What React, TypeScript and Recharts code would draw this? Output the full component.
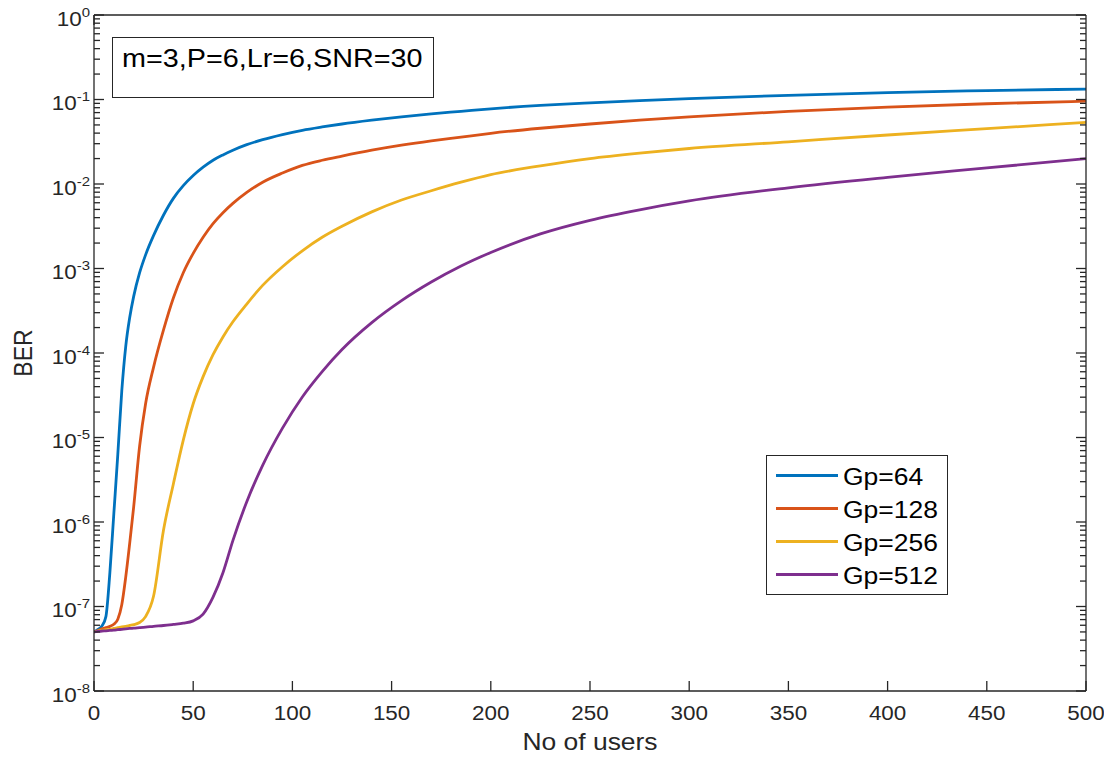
import React from "react";
import { LineChart, Line, XAxis, YAxis, Legend, Label } from "recharts";

// Number of users (x) and BER per processing gain
const users = [0, 2, 4, 6, 8, 10, 12, 14, 16, 18, 20, 23, 26, 30, 35, 40, 45, 50, 55, 60, 65, 70, 77, 85, 95, 105, 115, 125, 140, 155, 170, 185, 200, 225, 250, 275, 300, 350, 400, 450, 500];
const gp64 = [5.0e-8, 5.37e-8, 5.89e-8, 7.59e-8, 2.51e-7, 1.26e-6, 6.31e-6, 3.55e-5, 1.2e-4, 2.63e-4, 4.68e-4, 8.91e-4, 1.45e-3, 2.45e-3, 4.27e-3, 6.76e-3, 9.55e-3, 1.26e-2, 1.58e-2, 1.91e-2, 2.21e-2, 2.51e-2, 2.92e-2, 3.35e-2, 3.85e-2, 4.32e-2, 4.73e-2, 5.13e-2, 5.69e-2, 6.24e-2, 6.76e-2, 7.24e-2, 7.76e-2, 8.51e-2, 9.12e-2, 9.7e-2, 1.023e-1, 1.122e-1, 1.208e-1, 1.274e-1, 1.33e-1];
const gp128 = [5.0e-8, 5.19e-8, 5.43e-8, 5.62e-8, 5.82e-8, 6.17e-8, 7.08e-8, 1.05e-7, 2.24e-7, 5.62e-7, 1.51e-6, 7.94e-6, 2.51e-5, 6.76e-5, 1.86e-4, 4.47e-4, 8.91e-4, 1.51e-3, 2.34e-3, 3.39e-3, 4.57e-3, 5.89e-3, 7.94e-3, 1.05e-2, 1.35e-2, 1.66e-2, 1.91e-2, 2.14e-2, 2.51e-2, 2.88e-2, 3.24e-2, 3.59e-2, 3.98e-2, 4.57e-2, 5.13e-2, 5.69e-2, 6.24e-2, 7.24e-2, 8.13e-2, 8.91e-2, 9.55e-2];
const gp256 = [5.0e-8, 5.13e-8, 5.25e-8, 5.31e-8, 5.37e-8, 5.5e-8, 5.62e-8, 5.75e-8, 5.82e-8, 5.96e-8, 6.1e-8, 6.46e-8, 7.59e-8, 1.32e-7, 7.94e-7, 2.82e-6, 9.33e-6, 2.51e-5, 5.25e-5, 9.55e-5, 1.55e-4, 2.34e-4, 3.8e-4, 6.31e-4, 1.05e-3, 1.62e-3, 2.34e-3, 3.16e-3, 4.68e-3, 6.46e-3, 8.32e-3, 1.05e-2, 1.29e-2, 1.64e-2, 2.0e-2, 2.32e-2, 2.63e-2, 3.16e-2, 3.8e-2, 4.52e-2, 5.37e-2];
const gp512 = [5.0e-8, 5.07e-8, 5.13e-8, 5.16e-8, 5.21e-8, 5.25e-8, 5.31e-8, 5.37e-8, 5.43e-8, 5.5e-8, 5.56e-8, 5.62e-8, 5.69e-8, 5.82e-8, 5.96e-8, 6.14e-8, 6.34e-8, 6.76e-8, 8.13e-8, 1.29e-7, 2.51e-7, 6.03e-7, 1.74e-6, 4.68e-6, 1.29e-5, 3.02e-5, 6.03e-5, 1.1e-4, 2.29e-4, 4.17e-4, 6.92e-4, 1.07e-3, 1.55e-3, 2.57e-3, 3.72e-3, 4.95e-3, 6.31e-3, 9.02e-3, 1.2e-2, 1.55e-2, 2.0e-2];

const seriesKeys = ["gp64", "gp128", "gp256", "gp512"];
const seriesNames = ["Gp=64", "Gp=128", "Gp=256", "Gp=512"];
const xTicks = [0, 50, 100, 150, 200, 250, 300, 350, 400, 450, 500];
const yDecades = [1e-8, 1e-7, 1e-6, 1e-5, 1e-4, 1e-3, 1e-2, 1e-1, 1];
const minorSteps = [2, 3, 4, 5, 6, 7, 8, 9];
const annotation = "m=3,P=6,Lr=6,SNR=30";

// MATLAB default line colours
const COLORS = ["#0072BD", "#D95319", "#EDB120", "#7E2F8E"];
const INK = "#262626";
const FONT = "'Liberation Sans', Arial, sans-serif";
const SX = 1.15; // the source image is a bit stretched horizontally

const data = users.map((u, i) => ({
  users: u,
  gp64: gp64[i],
  gp128: gp128[i],
  gp256: gp256[i],
  gp512: gp512[i],
}));

const yTicks = [
  ...yDecades,
  ...yDecades.slice(0, -1).flatMap((d) => minorSteps.map((m) => m * d)),
].sort((a, b) => a - b);

const isMajor = (v: number) => {
  const l = Math.log10(v);
  return Math.abs(l - Math.round(l)) < 1e-6;
};

// inward ticks, MATLAB style
function LeftTick(props: any) {
  const { x, y, payload } = props;
  const major = isMajor(payload.value);
  const exp = Math.round(Math.log10(payload.value));
  return (
    <g>
      <line x1={x} x2={x + (major ? 10 : 6)} y1={y} y2={y} stroke={INK} strokeWidth={1.3} />
      {major && (
        <text
          transform={`translate(${x - 4},${y + 10.5}) scale(${SX},1)`}
          textAnchor="end"
          fill={INK}
          fontSize={19.5}
          fontFamily={FONT}
        >
          <tspan>10</tspan>
          <tspan dy={-9} fontSize={13}>{exp}</tspan>
        </text>
      )}
    </g>
  );
}

function RightTick(props: any) {
  const { x, y, payload } = props;
  const major = isMajor(payload.value);
  return <line x1={x} x2={x - (major ? 10 : 6)} y1={y} y2={y} stroke={INK} strokeWidth={1.3} />;
}

function BottomTick(props: any) {
  const { x, y, payload } = props;
  return (
    <g>
      <line x1={x} x2={x} y1={y} y2={y - 10} stroke={INK} strokeWidth={1.3} />
      <text
        transform={`translate(${x},${y + 29}) scale(${SX},1)`}
        textAnchor="middle"
        fill={INK}
        fontSize={19.5}
        fontFamily={FONT}
      >
        {payload.value}
      </text>
    </g>
  );
}

function TopTick(props: any) {
  const { x, y } = props;
  return <line x1={x} x2={x} y1={y} y2={y + 10} stroke={INK} strokeWidth={1.3} />;
}

function LegendBox({ payload }: any) {
  const items = [...(payload ?? [])].sort(
    (a: any, b: any) => seriesNames.indexOf(a.value) - seriesNames.indexOf(b.value)
  );
  return (
    <div
      style={{
        position: "relative",
        boxSizing: "border-box",
        width: 182,
        height: 140,
        border: `1px solid ${INK}`,
        background: "#fff",
      }}
    >
      {items.map((p: any, i: number) => (
        <React.Fragment key={p.value}>
          <div
            style={{
              position: "absolute",
              left: 9,
              top: 19 + i * 33.3 - 1.5,
              width: 62,
              height: 3,
              background: p.color,
            }}
          />
          <span
            style={{
              position: "absolute",
              left: 76,
              top: 29 + i * 33.3 - 19.5,
              fontSize: 23,
              lineHeight: "23px",
              fontFamily: FONT,
              color: "#000",
              whiteSpace: "nowrap",
              transform: `scaleX(${SX})`,
              transformOrigin: "left",
            }}
          >
            {p.value}
          </span>
        </React.Fragment>
      ))}
    </div>
  );
}

export default function App() {
  return (
    <div style={{ position: "relative", width: 1112, height: 759, margin: -8, background: "#fff" }}>
      <LineChart
        width={1112}
        height={759}
        data={data}
        margin={{ top: 14, right: 25, bottom: 8, left: 0 }}
      >
        <XAxis
          dataKey="users"
          type="number"
          domain={[0, 500]}
          ticks={xTicks}
          interval={0}
          allowDataOverflow
          height={60}
          tickSize={0}
          tickMargin={0}
          tickLine={false}
          axisLine={{ stroke: INK, strokeWidth: 1.3 }}
          tick={<BottomTick />}
        >
          <Label
            content={(p: any) => {
              const vb = p.viewBox ?? { x: 94, y: 691, width: 992, height: 60 };
              return (
                <text
                  transform={`translate(${vb.x + vb.width / 2},${vb.y + 59}) scale(${SX},1)`}
                  textAnchor="middle"
                  fill={INK}
                  fontSize={23}
                  fontFamily={FONT}
                >
                  No of users
                </text>
              );
            }}
          />
        </XAxis>
        <XAxis
          xAxisId="top"
          orientation="top"
          type="number"
          domain={[0, 500]}
          ticks={xTicks}
          interval={0}
          allowDataOverflow
          height={1}
          tickSize={0}
          tickMargin={0}
          tickLine={false}
          axisLine={{ stroke: INK, strokeWidth: 1.3 }}
          tick={<TopTick />}
        />
        <YAxis
          type="number"
          scale="log"
          domain={[1e-8, 1]}
          ticks={yTicks}
          interval={0}
          allowDataOverflow
          width={94}
          tickSize={0}
          tickMargin={0}
          tickLine={false}
          axisLine={{ stroke: INK, strokeWidth: 1.3 }}
          tick={<LeftTick />}
        >
          <Label
            content={(p: any) => {
              const vb = p.viewBox ?? { x: 0, y: 15, width: 94, height: 676 };
              return (
                <text
                  transform={`translate(31.5,${vb.y + vb.height / 2}) scale(${SX},1) rotate(-90)`}
                  textAnchor="middle"
                  fill={INK}
                  fontSize={23}
                  fontFamily={FONT}
                >
                  BER
                </text>
              );
            }}
          />
        </YAxis>
        <YAxis
          yAxisId="right"
          orientation="right"
          type="number"
          scale="log"
          domain={[1e-8, 1]}
          ticks={yTicks}
          interval={0}
          allowDataOverflow
          width={1}
          tickSize={0}
          tickMargin={0}
          tickLine={false}
          axisLine={{ stroke: INK, strokeWidth: 1.3 }}
          tick={<RightTick />}
        />
        <Legend
          layout="vertical"
          align="center"
          verticalAlign="middle"
          content={<LegendBox />}
          wrapperStyle={{ left: 766, top: 455, width: 182, height: 140, margin: 0, padding: 0 }}
        />
        {seriesKeys.map((k, i) => (
          <Line
            key={k}
            type="monotone"
            dataKey={k}
            name={seriesNames[i]}
            stroke={COLORS[i]}
            strokeWidth={2.8}
            dot={false}
            activeDot={false}
            isAnimationActive={false}
          />
        ))}
      </LineChart>

      {/* parameter annotation box */}
      <div
        style={{
          position: "absolute",
          left: 112,
          top: 37,
          width: 322,
          height: 61,
          boxSizing: "border-box",
          border: `1px solid ${INK}`,
          background: "#fff",
        }}
      >
        <span
          style={{
            position: "absolute",
            left: 9,
            top: 8,
            fontSize: 25,
            lineHeight: "25px",
            fontFamily: FONT,
            color: "#000",
            whiteSpace: "nowrap",
            transform: `scaleX(${SX})`,
            transformOrigin: "left",
          }}
        >
          {annotation}
        </span>
      </div>
    </div>
  );
}
